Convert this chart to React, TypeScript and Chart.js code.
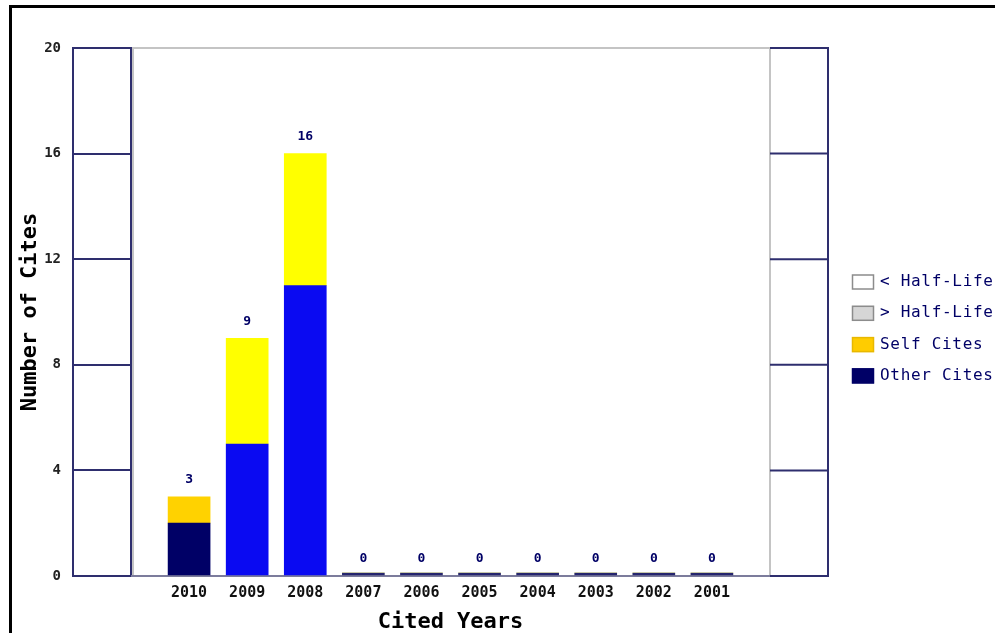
import React, { useEffect, useRef } from 'react';
import { Chart, registerables } from 'chart.js';

Chart.register(...registerables);

const years = ['2010', '2009', '2008', '2007', '2006', '2005', '2004', '2003', '2002', '2001'];
const otherCites = [2, 5, 11, 0, 0, 0, 0, 0, 0, 0];
const selfCites = [1, 4, 5, 0, 0, 0, 0, 0, 0, 0];
const otherColors = ['#000066', '#0a0af2', '#0a0af2', '#26266e', '#26266e', '#26266e', '#26266e', '#26266e', '#26266e', '#26266e'];
const selfColors = ['#ffd200', '#ffff00', '#ffff00', '#ffff00', '#ffff00', '#ffff00', '#ffff00', '#ffff00', '#ffff00', '#ffff00'];
const yMin = 0;
const yMax = 20;
const yStep = 4;
const legendLabels = ['< Half-Life', '> Half-Life', 'Self Cites', 'Other Cites'];
const legendFills = ['#ffffff', '#d6d6d6', '#ffcc00', '#000066'];
const legendBorders = ['#8c8c8c', '#8c8c8c', '#e8b800', '#000066'];
const xTitle = 'Cited Years';
const yTitle = 'Number of Cites';

const MONO = '"DejaVu Sans Mono", "Liberation Mono", monospace';
const NAVY = '#2e2e6e';

const decor = {
  id: 'decor',
  beforeDatasetsDraw(chart: any) {
    const { ctx, chartArea, scales } = chart;
    const { left, right, top, bottom } = chartArea;
    const y = scales.y;
    ctx.save();
    ctx.strokeStyle = '#c4c4c4';
    ctx.lineWidth = 2;
    ctx.beginPath();
    ctx.moveTo(left + 2, bottom);
    ctx.lineTo(left + 2, top);
    ctx.lineTo(right, top);
    ctx.lineTo(right, bottom);
    ctx.stroke();
    ctx.strokeStyle = '#7c7c9c';
    ctx.beginPath();
    ctx.moveTo(left, bottom);
    ctx.lineTo(right, bottom);
    ctx.stroke();
    ctx.strokeStyle = NAVY;
    ctx.beginPath();
    ctx.moveTo(left - 58, top - 1);
    ctx.lineTo(left - 58, bottom + 1);
    ctx.stroke();
    for (let v = yMin; v <= yMax; v += yStep) {
      const py = y.getPixelForValue(v);
      ctx.beginPath();
      ctx.moveTo(right, py);
      ctx.lineTo(right + 58, py);
      ctx.stroke();
    }
    ctx.beginPath();
    ctx.moveTo(right + 58, top - 1);
    ctx.lineTo(right + 58, bottom + 1);
    ctx.stroke();
    ctx.restore();
  },
  afterDatasetsDraw(chart: any) {
    const { ctx, scales } = chart;
    const y = scales.y;
    const meta = chart.getDatasetMeta(0);
    ctx.save();
    ctx.fillStyle = '#000066';
    ctx.font = 'bold 13px ' + MONO;
    ctx.textAlign = 'center';
    ctx.textBaseline = 'middle';
    years.forEach((_, i) => {
      const total = otherCites[i] + selfCites[i];
      const el = meta.data[i + 1];
      if (!el) return;
      ctx.fillText(String(total), el.x, y.getPixelForValue(total) - 17);
    });
    ctx.restore();
  },
  afterDraw(chart: any) {
    const { ctx } = chart;
    ctx.save();
    ctx.fillStyle = '#000';
    ctx.fillRect(9, 5, 995 - 9, 3);
    ctx.fillRect(9, 5, 3, 633 - 5);
    ctx.font = '16px ' + MONO;
    ctx.textBaseline = 'middle';
    ctx.textAlign = 'left';
    try { (ctx as any).letterSpacing = '0.7px'; } catch (e) { /* ignore */ }
    legendLabels.forEach((lab, i) => {
      const yc = 282 + i * 31.3;
      ctx.fillStyle = legendFills[i];
      ctx.fillRect(852, yc - 7.5, 22, 15);
      ctx.strokeStyle = legendBorders[i];
      ctx.lineWidth = 1.5;
      ctx.strokeRect(852.5, yc - 7, 21, 14);
      ctx.fillStyle = '#000066';
      ctx.fillText(lab, 880, yc);
    });
    ctx.restore();
  },
};

export default function App() {
  const ref = useRef<HTMLCanvasElement | null>(null);
  useEffect(() => {
    if (!ref.current) return;
    const labels = ['', ...years, ''];
    const chart = new Chart(ref.current, {
      type: 'bar',
      data: {
        labels,
        datasets: [
          {
            label: 'Other Cites',
            data: [null, ...otherCites, null],
            backgroundColor: ['transparent', ...otherColors, 'transparent'],
            barThickness: 42,
            minBarLength: 3,
            borderWidth: 0,
          },
          {
            label: 'Self Cites',
            data: [null, ...selfCites, null],
            backgroundColor: ['transparent', ...selfColors, 'transparent'],
            barThickness: 42,
            borderWidth: 0,
          },
        ],
      },
      options: {
        animation: false,
        responsive: false,
        devicePixelRatio: 1,
        layout: { padding: { top: 48, right: 225, left: 0, bottom: 0 } },
        plugins: { legend: { display: false }, tooltip: { enabled: false } },
        scales: {
          x: {
            stacked: true,
            offset: false,
            grid: { display: false, drawTicks: false, offset: false },
            border: { display: false },
            ticks: {
              color: '#111',
              font: { family: MONO, size: 15, weight: 'bold' },
              padding: 8,
              autoSkip: false,
              maxRotation: 0,
            },
            title: {
              display: true,
              text: xTitle,
              color: '#000',
              font: { family: MONO, size: 22, weight: 'bold', lineHeight: 1 },
              padding: { top: 0, bottom: 0 },
            },
            afterFit: (s: any) => { s.height = 57; },
          },
          y: {
            stacked: true,
            min: yMin,
            max: yMax,
            grid: { drawOnChartArea: false, drawTicks: true, tickLength: 58, color: NAVY, lineWidth: 2 },
            border: { display: true, color: NAVY, width: 2 },
            ticks: {
              stepSize: yStep,
              color: '#222',
              font: { family: MONO, size: 14, weight: 'bold' },
              padding: 12,
            },
            title: {
              display: true,
              text: yTitle,
              color: '#000',
              font: { family: MONO, size: 22, weight: 'bold', lineHeight: 1 },
              padding: { top: 19, bottom: 0 },
            },
            afterFit: (s: any) => { s.width = 131; },
          },
        },
      },
      plugins: [decor],
    } as any);
    return () => chart.destroy();
  }, []);
  return (
    <div style={{ position: 'absolute', left: 0, top: 0, width: 995, height: 633, background: '#fff' }}>
      <canvas ref={ref} width={995} height={633} />
    </div>
  );
}
